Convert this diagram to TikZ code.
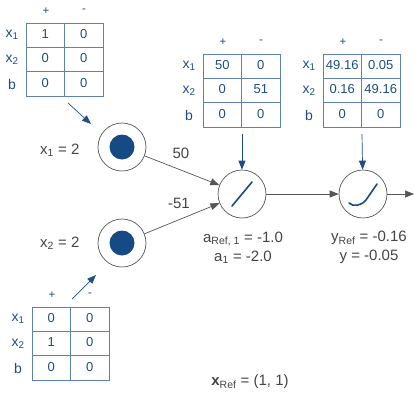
\documentclass[tikz,border=0pt]{standalone}
\usepackage{fontspec}
\setmainfont{Liberation Sans}
\usetikzlibrary{arrows.meta}
\definecolor{tblue}{HTML}{1F4E84}
\definecolor{tline}{HTML}{5E82AD}
\definecolor{dblue}{HTML}{154A85}
\definecolor{gtext}{HTML}{444444}
\definecolor{gline}{HTML}{555555}
\tikzset{
  cellnum/.style={text=tblue,font=\fontsize{13}{15}\selectfont,inner sep=0pt},
  hdr/.style={text=tblue,font=\fontsize{11.5}{13}\selectfont,inner sep=0pt},
  rowlab/.style={text=tblue,font=\fontsize{14}{16}\selectfont,inner sep=0pt},
  neuron/.style={circle,draw=gline,line width=0.7pt,minimum size=48pt,inner sep=0pt},
  conn/.style={draw=gline,line width=0.7pt,-{Triangle[length=9pt,width=7pt]}},
  tarrow/.style={draw=tblue,line width=0.7pt,-{Triangle[length=9pt,width=7pt]}},
  lab/.style={text=gtext,font=\fontsize{15}{19}\selectfont,inner sep=0pt,align=center},
}
\newcommand{\wtable}[9]{%
  \begin{scope}[shift={(#2,#3)}]
    \draw[tline,line width=0.8pt] (0,0) rectangle (77,73);
    \draw[tline,line width=0.8pt] (38.5,0) -- (38.5,73);
    \draw[tline,line width=0.8pt] (0,24.3) -- (77,24.3);
    \draw[tline,line width=0.8pt] (0,48.7) -- (77,48.7);
    \node[hdr] (#1hp) at (20,-12) {+};
    \node[hdr] (#1hm) at (58,-12) {-};
    \node[rowlab] (#1r1) at (-14,12) {x\textsubscript{1}};
    \node[rowlab] (#1r2) at (-14,37) {x\textsubscript{2}};
    \node[rowlab] (#1r3) at (-14,61) {b};
    \node[cellnum] (#1a) at (19.25,11) {#4};
    \node[cellnum] (#1b) at (57.75,11) {#5};
    \node[cellnum] (#1c) at (19.25,35.5) {#6};
    \node[cellnum] (#1d) at (57.75,35.5) {#7};
    \node[cellnum] (#1e) at (19.25,60) {#8};
    \node[cellnum] (#1f) at (57.75,60) {#9};
  \end{scope}}
\begin{document}
\begin{tikzpicture}[x=1pt,y=-1pt]
\useasboundingbox (0,0) rectangle (415,405);
\fill[white] (0,0) rectangle (415,405);
\wtable{ta}{26}{23}{1}{0}{0}{0}{0}{0}
\wtable{tb}{203}{54}{50}{0}{0}{51}{0}{0}
\wtable{tc}{323}{54}{49.16}{0.05}{0.16}{49.16}{0}{0}
\wtable{td}{32}{307}{0}{0}{1}{0}{0}{0}
% neurons
\node[neuron] (n1) at (122,147) {};
\node[neuron] (n2) at (122,243) {};
\node[neuron] (n3) at (242,194) {};
\node[neuron] (n4) at (363,194) {};
\fill[dblue] (n1.center) circle (12.5);
\fill[dblue] (n2.center) circle (12.5);
\draw[dblue,line width=1.6pt,line cap=round] (232,206) -- (252,182);
\draw[dblue,line width=1.6pt,line cap=round] (349,203) .. controls (353,207) and (361,206) .. (366,200) -- (377,184);
% input labels
\node[lab,anchor=west] (l1) at (40,150) {x\textsubscript{1} = 2};
\node[lab,anchor=west] (l2) at (40,243) {x\textsubscript{2} = 2};
% connectors
\draw[conn] (n1) -- (n3);
\draw[conn] (n2) -- (n3);
\node[lab] (w1) at (181,153) {50};
\node[lab] (w2) at (179,203) {-51};
\draw[conn] (n3) -- (n4);
\coordinate (out) at (414,194);
\draw[conn] (n4) -- (out);
% table arrows
\coordinate (tas) at (68,103);
\coordinate (tae) at (91,124);
\draw[tarrow] (tas) -- (tae);
\coordinate (tds) at (72,299);
\coordinate (tde) at (96,275);
\draw[tarrow] (tds) -- (tde);
\coordinate (tbs) at (242,134);
\draw[tarrow] (tbs) -- (n3);
\coordinate (tcs) at (362,134);
\draw[tarrow] (tcs) -- (n4);
% output labels
\node[lab] (a1) at (243,247.5) {a\textsubscript{Ref, 1} = -1.0\\a\textsubscript{1} = -2.0};
\node[lab] (y1) at (369,247.5) {y\textsubscript{Ref} = -0.16\\y = -0.05};
\node[lab] (xr) at (250,382) {\textbf{x}\textsubscript{Ref} = (1, 1)};
\end{tikzpicture}
\end{document}
